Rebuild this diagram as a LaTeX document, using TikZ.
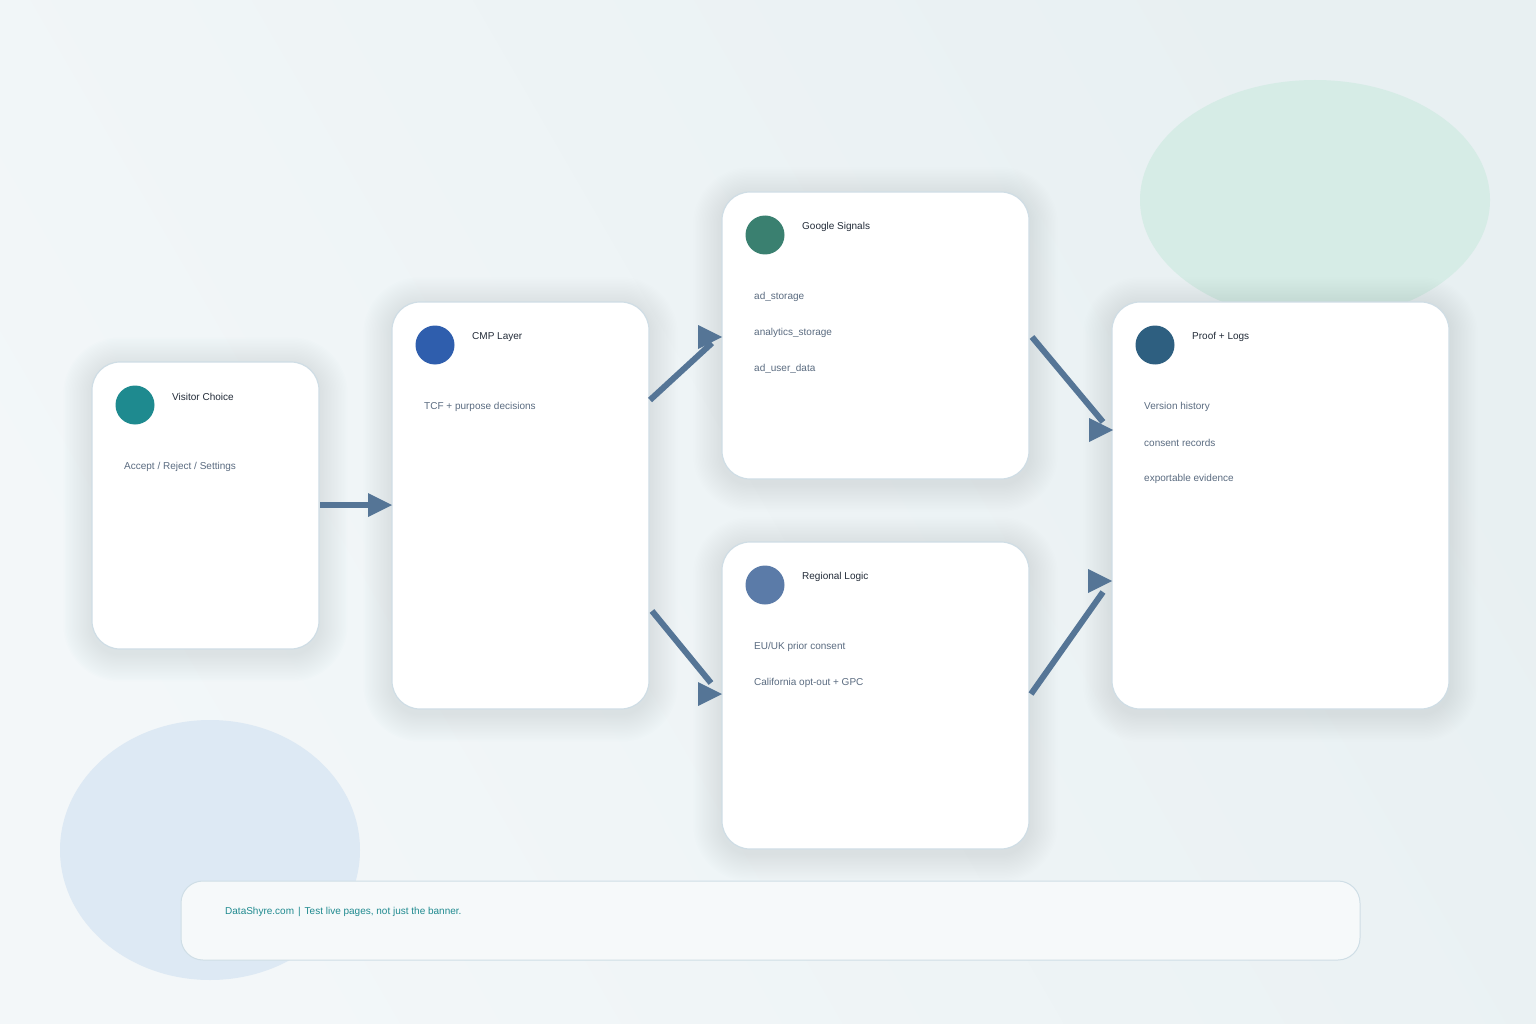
\documentclass[tikz,border=0pt]{standalone}
\usepackage{fontspec}
\setmainfont{Liberation Sans}
\usetikzlibrary{calc}
\definecolor{bgA}{HTML}{F3F7F9}
\definecolor{bgB}{HTML}{E8F0F2}
\definecolor{blobG}{HTML}{D6ECE6}
\definecolor{blobB}{HTML}{DDE9F4}
\definecolor{cardline}{HTML}{CFDDE5}
\definecolor{shadowc}{HTML}{6F8A9A}
\definecolor{arrowc}{HTML}{557596}
\definecolor{titlec}{HTML}{222B38}
\definecolor{bodyc}{HTML}{5A6B80}
\definecolor{cTeal}{HTML}{1E8A8F}
\definecolor{cBlue}{HTML}{2F5EAD}
\definecolor{cGreen}{HTML}{3A8070}
\definecolor{cSlate}{HTML}{5B7BA8}
\definecolor{cDark}{HTML}{2E5F80}
\definecolor{footfill}{HTML}{F6F9FA}
\definecolor{footline}{HTML}{CFDEE6}
\definecolor{foottext}{HTML}{1F8A8F}
\pgfdeclarelayer{bglayer}
\pgfdeclarelayer{shadowlayer}
\pgfsetlayers{bglayer,shadowlayer,main}
\tikzset{
  card/.style={draw=cardline, line width=1.2pt, fill=white, rounded corners=28pt, inner sep=0pt},
  dot/.style={circle, inner sep=0pt, minimum size=39pt},
  ttl/.style={anchor=west, inner sep=0pt, font=\fontsize{10}{12}\selectfont, text=titlec},
  body/.style={anchor=west, inner sep=0pt, font=\fontsize{10}{12}\selectfont, text=bodyc},
  conn/.style={draw=arrowc, line width=6pt},
}
\newcommand{\headat}[1]{\fill[arrowc] ($(#1)+(-24,-12)$) -- (#1) -- ($(#1)+(-24,12)$) -- cycle;}
\newcommand{\softshadow}[1]{%
  \begin{pgfonlayer}{shadowlayer}
  \foreach \i in {1,...,20}{
    \fill[shadowc, opacity=0.0065, rounded corners={28pt+\i*1.4pt}]
      ($(#1.south west)+(-\i*1.4,\i*1.4+4)$) rectangle ($(#1.north east)+(\i*1.4,-\i*1.4+4)$);
  }
  \end{pgfonlayer}}
\begin{document}
\begin{tikzpicture}[x=1pt,y=-1pt]
\useasboundingbox (0,0) rectangle (1536,1024);
\begin{pgfonlayer}{bglayer}
\shade[left color=bgA, right color=bgB, shading angle=120] (0,0) rectangle (1536,1024);
\fill[blobG] (1315,200) ellipse [x radius=175, y radius=120];
\fill[blobB] (210,850) ellipse [x radius=150, y radius=130];
\end{pgfonlayer}

% cards
\node[card, minimum width=227pt, minimum height=287pt] (vc) at (205.5,505.5) {};
\node[card, minimum width=257pt, minimum height=407pt] (cmp) at (520.5,505.5) {};
\node[card, minimum width=307pt, minimum height=287pt] (gs) at (875.5,335.5) {};
\node[card, minimum width=307pt, minimum height=307pt] (rl) at (875.5,695.5) {};
\node[card, minimum width=337pt, minimum height=407pt] (pl) at (1280.5,505.5) {};
\softshadow{vc}\softshadow{cmp}\softshadow{gs}\softshadow{rl}\softshadow{pl}

% footer
\node[draw=footline, line width=1pt, fill=footfill, rounded corners=22pt,
  minimum width=1179pt, minimum height=79pt, inner sep=0pt] (foot) at (770.5,920.5) {};
\node[anchor=west, inner sep=0pt, font=\fontsize{10}{12}\selectfont, text=foottext] (foottxt) at (225,912)
  {DataShyre.com\hspace{4pt}|\hspace{4pt}Test live pages, not just the banner.};

% Visitor Choice
\node[dot, fill=cTeal] (d1) at (135,405) {};
\node[ttl] (t1) at (172,397) {Visitor Choice};
\node[body] (b1) at (124,467) {Accept / Reject / Settings};

% CMP Layer
\node[dot, fill=cBlue] (d2) at (435,345) {};
\node[ttl] (t2) at (472,337) {CMP Layer};
\node[body] (b2) at (424,407) {TCF + purpose decisions};

% Google Signals
\node[dot, fill=cGreen] (d3) at (765,235) {};
\node[ttl] (t3) at (802,227) {Google Signals};
\node[body] (b3a) at (754,297) {ad\_storage};
\node[body] (b3b) at (754,333) {analytics\_storage};
\node[body] (b3c) at (754,369) {ad\_user\_data};

% Regional Logic
\node[dot, fill=cSlate] (d4) at (765,585) {};
\node[ttl] (t4) at (802,577) {Regional Logic};
\node[body] (b4a) at (754,647) {EU/UK prior consent};
\node[body] (b4b) at (754,683) {California opt-out + GPC};

% Proof + Logs
\node[dot, fill=cDark] (d5) at (1155,345) {};
\node[ttl] (t5) at (1192,337) {Proof + Logs};
\node[body] (b5a) at (1144,407) {Version history};
\node[body] (b5b) at (1144,443) {consent records};
\node[body] (b5c) at (1144,479) {exportable evidence};

% connector coordinates
\coordinate (s1) at (320,505); \coordinate (e1) at (374,505); \coordinate (h1) at (392,505);
\coordinate (s2) at (650,400); \coordinate (e2) at (712,343); \coordinate (h2) at (722,337);
\coordinate (s3) at (652,611); \coordinate (e3) at (711,683); \coordinate (h3) at (722,694);
\coordinate (s4) at (1032,337); \coordinate (e4) at (1103,422); \coordinate (h4) at (1113,430);
\coordinate (s5) at (1031,694); \coordinate (e5) at (1103,592); \coordinate (h5) at (1112,581);

\draw[conn] (s1) -- (e1); \headat{h1}
\draw[conn] (s2) -- (e2); \headat{h2}
\draw[conn] (s3) -- (e3); \headat{h3}
\draw[conn] (s4) -- (e4); \headat{h4}
\draw[conn] (s5) -- (e5); \headat{h5}
\end{tikzpicture}
\end{document}
